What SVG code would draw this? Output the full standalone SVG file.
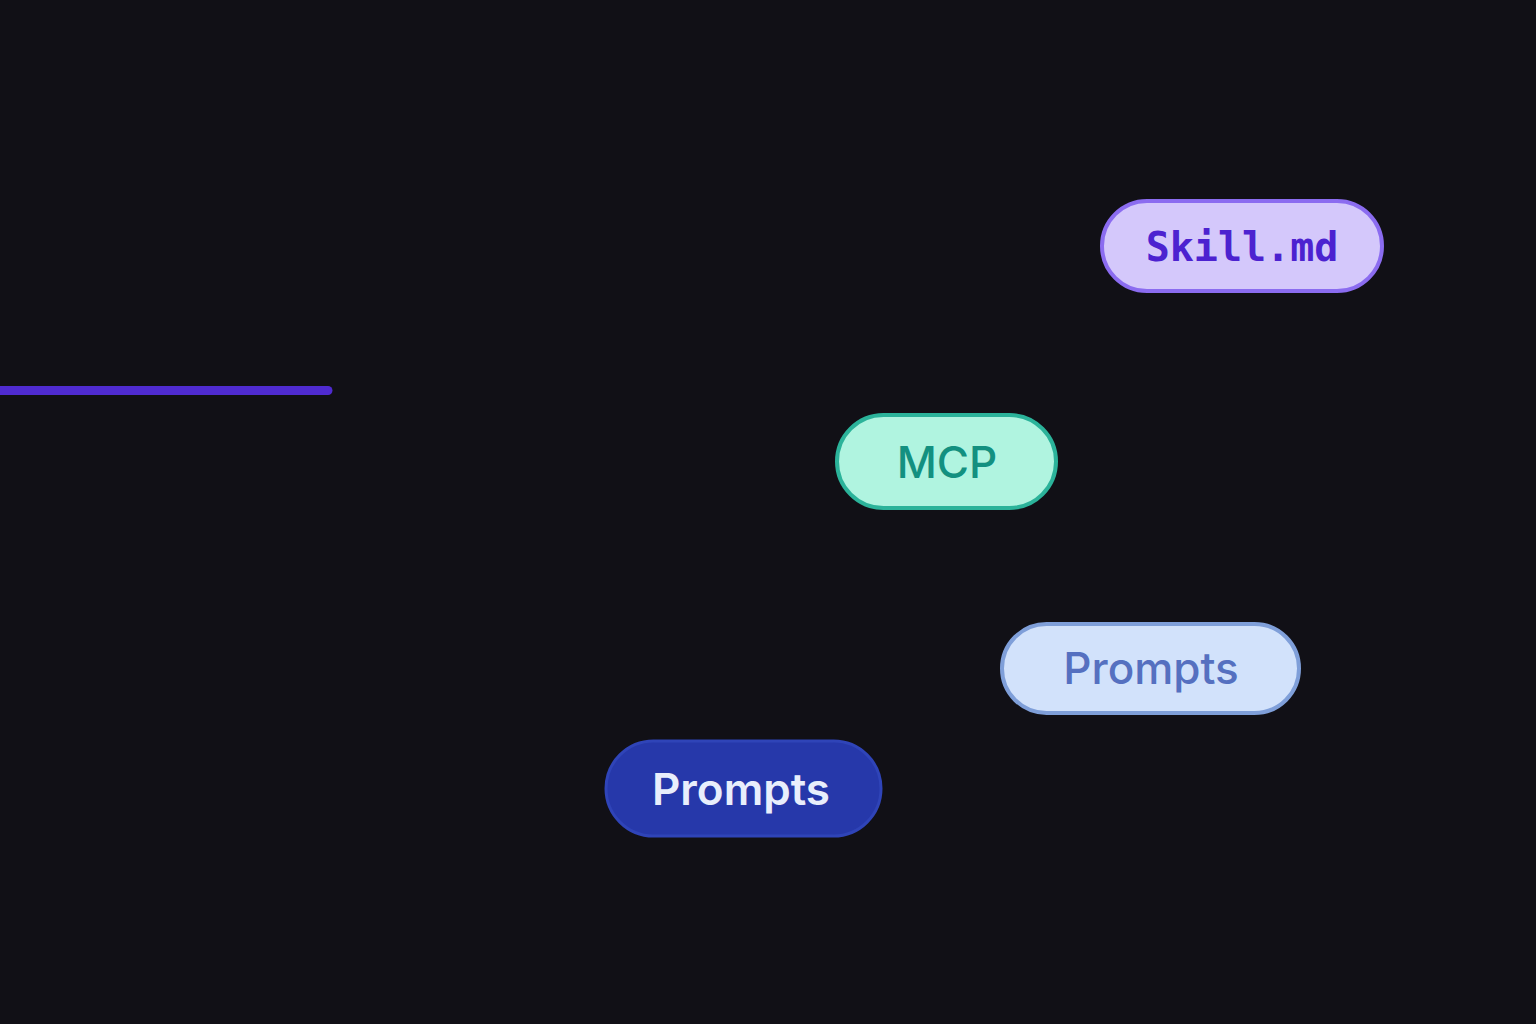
<svg xmlns="http://www.w3.org/2000/svg" width="1536" height="1024" viewBox="0 0 1536 1024">
<style>
.t{font-family:"Inter","Noto Sans","Liberation Sans",sans-serif;text-anchor:middle;dominant-baseline:central}
</style>
<rect width="1536" height="1024" fill="#111016"/>
<g id="connectors"><line x1="0" y1="390.500" x2="328" y2="390.500" stroke="#4f2bd0" stroke-width="9" stroke-linecap="round"/></g>
<g id="skill"><rect x="1102" y="201" width="280" height="90" rx="45" fill="#d4c8fb" stroke="#8b6cf0" stroke-width="4"/><text x="1242" y="247" class="t" style="font-family:'DejaVu Sans Mono','Liberation Mono',monospace;font-weight:bold;font-size:40px" fill="#4c22d0">Skill.md</text></g>
<g id="mcp"><rect x="837" y="415" width="219" height="93" rx="46.500" fill="#b0f4e0" stroke="#2bb39a" stroke-width="4"/><text x="947" y="462" class="t" style="font-size:44px;font-weight:500" fill="#139080">MCP</text></g>
<g id="prompts1"><rect x="1002" y="624" width="297" height="89" rx="44.500" fill="#d2e2fb" stroke="#7f9fd9" stroke-width="4"/><text x="1151" y="668" class="t" style="font-size:44px;font-weight:500" fill="#5570c0">Prompts</text></g>
<g id="prompts2"><rect x="606" y="741" width="275" height="95" rx="47.500" fill="#2638aa" stroke="#2f44b8" stroke-width="3"/><text x="741" y="789" class="t" style="font-size:44px;font-weight:600" fill="#e8eefc">Prompts</text></g>
</svg>
